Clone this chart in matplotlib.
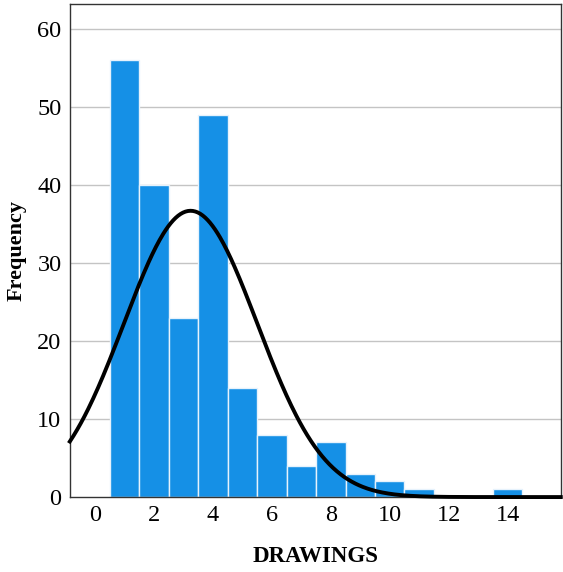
import numpy as np
import matplotlib
matplotlib.use("Agg")
from matplotlib import pyplot as plt

# histogram counts
drawings = [1, 2, 3, 4, 5, 6, 7, 8, 9, 10, 11, 12, 13, 14]
counts = [56, 40, 23, 49, 14, 8, 4, 7, 3, 2, 1, 0, 0, 1]
x_ticks = [0, 2, 4, 6, 8, 10, 12, 14]
y_ticks = [0, 10, 20, 30, 40, 50, 60]

plt.rcParams['font.family'] = ['Liberation Serif', 'DejaVu Serif']

fig = plt.figure(figsize=(5.63, 5.72), dpi=100)
ax = fig.add_axes([0.124, 0.131, 0.872, 0.862])

# grid behind the bars
for yv in y_ticks[1:]:
    ax.axhline(yv, color='#c4c4c4', lw=1, zorder=0)

ax.bar(drawings, counts, width=1.0, color='#1590e6', edgecolor='#e6f2fc',
       linewidth=1, zorder=2)

# normal curve fitted to the same data
vals = np.repeat(drawings, counts)
n = len(vals)
mu = vals.mean()
sd = vals.std(ddof=1)
xs = np.linspace(-0.85, 15.8, 400)
ys = n * np.exp(-0.5 * ((xs - mu) / sd) ** 2) / (sd * np.sqrt(2 * np.pi))
ax.plot(xs, ys, color='black', lw=2.8, zorder=3, clip_on=False)

ax.set_xlim(-0.85, 15.8)
ax.set_ylim(0, 63.2)
ax.set_xticks(x_ticks)
ax.set_yticks(y_ticks)
ax.tick_params(length=0, labelsize=17.5, pad=6)
for s in ax.spines.values():
    s.set_color('#333333')
    s.set_linewidth(1)

ax.set_xlabel('DRAWINGS', fontsize=16.5, fontweight='bold', labelpad=14)
ax.set_ylabel('Frequency', fontsize=16, fontweight='bold', labelpad=8)

fig.savefig('out.png', dpi=100)
